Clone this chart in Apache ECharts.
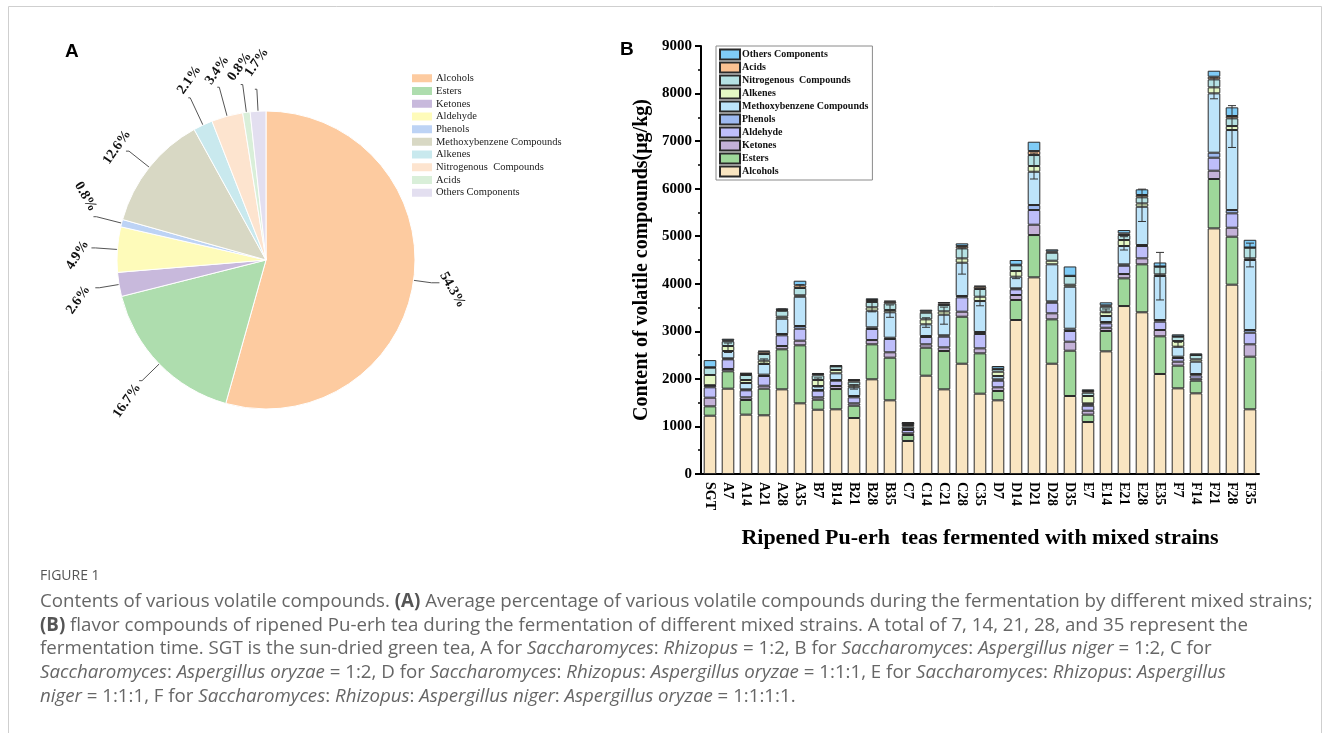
<!DOCTYPE html>
<html><head><meta charset="utf-8">
<script src="https://cdn.jsdelivr.net/npm/echarts@6/dist/echarts.min.js"></script>
<style>html,body{margin:0;padding:0;background:#fff}#c{width:1330px;height:733px}</style>
</head><body><div id="c"></div>
<script>
// ---------- data ----------
const compounds = ['Alcohols','Esters','Ketones','Aldehyde','Phenols','Methoxybenzene Compounds','Alkenes','Nitrogenous  Compounds','Acids','Others Components'];
const piePercent = [54.3,16.7,2.6,4.9,0.8,12.6,2.1,3.4,0.8,1.7];
const samples = ['SGT','A7','A14','A21','A28','A35','B7','B14','B21','B28','B35','C7','C14','C21','C28','C35','D7','D14','D21','D28','D35','E7','E14','E21','E28','E35','F7','F14','F21','F28','F35'];
const alcohols    = [1226,1794,1248,1234,1780,1486,1352,1360,1177,1991,1549,694,2067,1780,2319,1689,1549,3238,4135,2319,1640,1093,2579,3532,3400,2103,1801,1696,5165,3981,1360];
const esters      = [197,365,308,560,842,1220,210,427,259,736,897,126,589,806,988,848,196,421,890,933,953,155,428,582,1009,792,477,266,1038,1009,1107];
const ketones     = [182,49,56,63,69,97,50,63,50,90,113,35,71,77,106,105,78,105,217,127,189,83,69,91,126,133,84,42,175,189,260];
const aldehyde    = [218,203,148,204,225,252,140,112,126,232,280,70,154,225,302,302,139,119,309,223,225,105,92,175,259,175,77,70,273,302,244];
const phenols     = [34,21,20,28,28,57,14,14,28,35,27,21,21,28,28,42,28,21,105,28,48,28,28,28,21,35,28,28,105,70,57];
const methoxy     = [10,154,133,224,321,616,84,141,183,350,534,49,245,434,700,651,70,245,700,779,883,21,126,386,805,925,210,260,1248,1682,1472];
const alkenes     = [215,105,63,70,42,29,126,70,42,71,49,35,105,70,91,91,91,119,120,76,42,155,91,126,70,35,119,49,126,84,35];
const nitrogenous = [153,99,106,140,127,154,99,77,76,112,140,35,140,133,210,162,56,119,231,168,183,70,105,105,128,161,91,91,168,162,223];
const acids       = [10,20,28,49,15,56,28,5,35,42,35,5,28,35,49,49,7,14,84,28,5,35,28,35,49,5,7,5,56,49,5];
const others      = [150,35,14,21,35,97,21,21,15,35,21,22,35,29,57,21,57,99,196,43,196,35,64,70,119,84,43,28,126,182,162];
// error bars (centre value and half-range), null where none is drawn
const errCentre = [null,2655,null,2375,3450,3950,1925,null,1830,3510,3425,null,3185,3330,4478,3722,null,4188,6476,null,null,null,3430,4850,5650,4160,2720,null,8110,7306,4605];
const errHalf   = [null,100,null,45,20,30,95,null,45,100,130,null,100,180,275,185,null,80,273,null,null,null,40,140,340,500,50,null,220,440,250];
const barValues = [alcohols,esters,ketones,aldehyde,phenols,methoxy,alkenes,nitrogenous,acids,others];
const yTicks = [0,1000,2000,3000,4000,5000,6000,7000,8000,9000];

// ---------- styles ----------
const pieColors = ['#FDCBA0','#AEDDAE','#C8B9DC','#FEFBBA','#BDD3F5','#D8D8C4','#C9E9EE','#FDE4CF','#D9EFD9','#E3DFF0'];
const barColors = ['#F9E5C1','#9ED79A','#C4B2D8','#BEBEFA','#9DB9F0','#BDE4FA','#E4F8C4','#B5E2E4','#FBC192','#7FCCF7'];
// label styling for the pie (rotation in degrees, line lengths, text-centre shift from the line end)
const pieLabelRotate = [-60,55,55,58,-60,55,55,55,55,55];
const pieLine1 = [18,24,20,22,26,26,30,30,28,22];
const pieLine2 = [8,3,4,4,3,3,2,2,2,2];
const pieShiftX = [13,-12,-17,-14,-8,-9,1,0,-1,2];
const pieShiftY = [7,20,12,7,-20,-4,-18,-17,-18,-27];
const serif = '"Liberation Serif","Times New Roman",serif';
const pieNames = compounds.map(n => n + '\u200b');

const chart = echarts.init(document.getElementById('c'));

const barSeries = compounds.map((name, i) => ({
  type: 'bar', name: name, stack: 'total', xAxisIndex: 0, yAxisIndex: 0,
  barWidth: '70%', data: barValues[i],
  itemStyle: { color: barColors[i], borderColor: '#2a2a2a', borderWidth: 1 },
  emphasis: { disabled: true }, animation: false
}));

const errData = [];
samples.forEach((s, i) => { if (errCentre[i] != null) errData.push([i, errCentre[i], errHalf[i]]); });
const errSeries = {
  type: 'custom', name: 'error', xAxisIndex: 0, yAxisIndex: 0, data: errData, z: 5, silent: true,
  renderItem: function (params, api) {
    const x = api.value(0), c = api.value(1), e = api.value(2);
    const t = api.coord([x, c + e]), b = api.coord([x, c - e]);
    const w = 4;
    const st = { stroke: '#333', lineWidth: 1, fill: 'none' };
    return { type: 'group', children: [
      { type: 'line', shape: { x1: t[0], y1: t[1], x2: b[0], y2: b[1] }, style: st },
      { type: 'line', shape: { x1: t[0] - w, y1: t[1], x2: t[0] + w, y2: t[1] }, style: st },
      { type: 'line', shape: { x1: b[0] - w, y1: b[1], x2: b[0] + w, y2: b[1] }, style: st }
    ] };
  }
};

const captionLines = [
  'Contents of various volatile compounds. {b|(A)} Average percentage of various volatile compounds during the fermentation by different mixed strains;',
  '{b|(B)} flavor compounds of ripened Pu-erh tea during the fermentation of different mixed strains. A total of 7, 14, 21, 28, and 35 represent the',
  'fermentation time. SGT is the sun-dried green tea, A for {i|Saccharomyces}: {i|Rhizopus} = 1:2, B for {i|Saccharomyces}: {i|Aspergillus niger} = 1:2, C for',
  '{i|Saccharomyces}: {i|Aspergillus oryzae} = 1:2, D for {i|Saccharomyces}: {i|Rhizopus}: {i|Aspergillus oryzae} = 1:1:1, E for {i|Saccharomyces}: {i|Rhizopus}: {i|Aspergillus}',
  '{i|niger} = 1:1:1, F for {i|Saccharomyces}: {i|Rhizopus}: {i|Aspergillus niger}: {i|Aspergillus oryzae} = 1:1:1:1.'
];
const capFont = '"Open Sans", "Noto Sans", sans-serif';
const capSize = 18.7;
const graphics = [
  { type: 'rect', shape: { x: 8.5, y: 6.5, width: 1313, height: 760 }, style: { fill: 'none', stroke: '#cfcfcf', lineWidth: 1 }, silent: true },
  { type: 'text', left: 65, top: 42, style: { text: 'A', font: 'bold 19px "Liberation Sans", Arial, sans-serif', fill: '#000' } },
  { type: 'text', left: 620, top: 40, style: { text: 'B', font: 'bold 19px "Liberation Sans", Arial, sans-serif', fill: '#000' } },
  { type: 'text', left: 40, top: 569, style: { text: 'FIGURE 1', font: '14px ' + capFont, fill: '#555' } }
];
captionLines.forEach((t, k) => {
  graphics.push({ type: 'text', left: 40, top: 592 + k * 23.8, style: {
    text: t, font: capSize + 'px ' + capFont, fill: '#666',
    rich: { b: { fontWeight: 'bold', fontSize: capSize, fontFamily: capFont, fill: '#555' },
            i: { fontStyle: 'italic', fontSize: capSize, fontFamily: capFont, fill: '#666' } }
  }});
});

chart.setOption({
  animation: false,
  backgroundColor: '#fff',
  grid: { left: 701, top: 46, width: 558, bottom: 259, containLabel: false },
  legend: [
    { data: pieNames, orient: 'vertical', left: 410, top: 72, itemWidth: 22, itemHeight: 10, itemGap: 0,
      icon: 'rect', selectedMode: false, padding: 0,
      formatter: n => n.replace('\u200b', ''),
      textStyle: { fontFamily: serif, fontSize: 10.5, lineHeight: 12.7, color: '#222', padding: [0,0,0,-2] } },
    { data: compounds.slice().reverse(), orient: 'vertical', left: 716, top: 46, itemWidth: 20, itemHeight: 10, itemGap: 0,
      icon: 'rect', selectedMode: false, borderColor: '#8a8a8a', borderWidth: 1, padding: [2, 4, 2, 3],
      textStyle: { fontFamily: serif, fontSize: 10, lineHeight: 13, fontWeight: 'bold', color: '#111', padding: [0,0,0,-3] } }
  ],
  xAxis: [
    { type: 'category', data: samples, position: 'bottom',
      axisLine: { lineStyle: { color: '#000', width: 2 } },
      axisTick: { alignWithLabel: true, length: 6, lineStyle: { width: 1.5, color: '#000' } },
      axisLabel: { rotate: -90, interval: 0, fontFamily: serif, fontWeight: 'bold', fontSize: 14, color: '#000', margin: 8 },
      name: 'Ripened Pu-erh  teas fermented with mixed strains', nameLocation: 'middle', nameGap: 53,
      nameTextStyle: { fontFamily: serif, fontWeight: 'bold', fontSize: 22, color: '#000' } },
    { type: 'category', data: samples, position: 'bottom', gridIndex: 0,
      axisLine: { show: false }, axisLabel: { show: false },
      axisTick: { alignWithLabel: false, length: 4, lineStyle: { width: 1.5, color: '#000' } } }
  ],
  yAxis: { type: 'value', min: 0, max: 9000, interval: 1000,
    axisLine: { show: true, lineStyle: { color: '#000', width: 2 } },
    axisTick: { show: true, length: 6, lineStyle: { width: 2, color: '#000' } },
    minorTick: { show: true, splitNumber: 2, length: 3, lineStyle: { width: 1.5, color: '#000' } },
    splitLine: { show: false },
    axisLabel: { fontFamily: serif, fontWeight: 'bold', fontSize: 15, color: '#000', margin: 9,
      formatter: v => yTicks.includes(v) ? String(v) : '' },
    name: 'Content of volatile compounds(μg/kg)', nameLocation: 'middle', nameGap: 49, nameRotate: 90,
    nameTextStyle: { fontFamily: serif, fontWeight: 'bold', fontSize: 20, color: '#000' } },
  series: [
    { type: 'pie', name: 'share', center: [266, 260], radius: 149, startAngle: 90, clockwise: true,
      avoidLabelOverlap: false, animation: false,
      itemStyle: { borderColor: '#fff', borderWidth: 1 },
      label: { show: true, position: 'outside', fontFamily: serif, fontWeight: 'bold', fontSize: 14, color: '#111',
        formatter: p => p.value.toFixed(1) + '%' },
      labelLine: { show: true, length: 14, length2: 10, lineStyle: { color: '#555', width: 1 } },
      labelLayout: function (params) {
        const i = params.dataIndex;
        const pts = params.labelLinePoints;
        if (!pts) return {};
        const end = pts[pts.length - 1];
        return { x: end[0] + pieShiftX[i], y: end[1] + pieShiftY[i], align: 'center', verticalAlign: 'middle',
                 rotate: pieLabelRotate[i], labelLinePoints: pts };
      },
      emphasis: { disabled: true },
      data: pieNames.map((n, i) => ({ name: n, value: piePercent[i], itemStyle: { color: pieColors[i] },
        labelLine: { length: pieLine1[i], length2: pieLine2[i] } }))
    },
    ...barSeries,
    errSeries
  ],
  graphic: graphics
});
</script></body></html>
